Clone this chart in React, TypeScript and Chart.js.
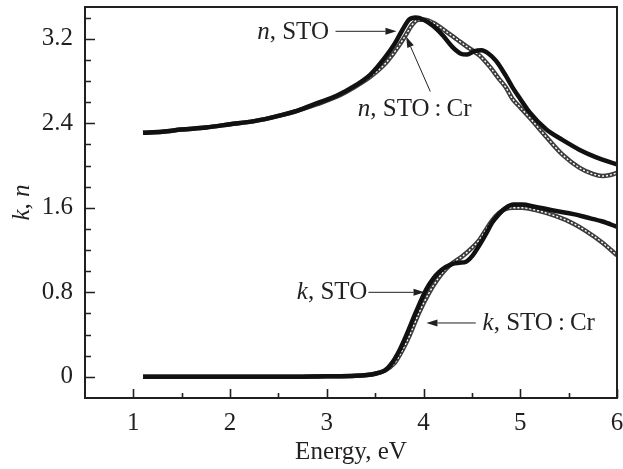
import React, { useEffect, useRef } from "react";
import { Chart, registerables } from "chart.js";
Chart.register(...registerables);

// ---------- data ----------
const nStoE = [1.1, 1.3, 1.5, 1.75, 2.0, 2.25, 2.5, 2.7, 2.9, 3.1, 3.3, 3.45, 3.6, 3.7, 3.78, 3.85, 3.92, 4.0, 4.1, 4.2, 4.3, 4.38, 4.45, 4.52, 4.6, 4.67, 4.75, 4.85, 4.92, 5.0, 5.1, 5.27, 5.44, 5.61, 5.78, 6.0];
const nStoV = [2.31, 2.32, 2.34, 2.36, 2.39, 2.42, 2.47, 2.52, 2.59, 2.66, 2.76, 2.86, 3.02, 3.15, 3.28, 3.38, 3.40, 3.38, 3.32, 3.23, 3.12, 3.06, 3.05, 3.08, 3.09, 3.06, 2.99, 2.85, 2.74, 2.63, 2.50, 2.34, 2.24, 2.15, 2.08, 2.01];

const nCrE = [1.1, 1.3, 1.5, 1.75, 2.0, 2.25, 2.5, 2.7, 2.9, 3.1, 3.3, 3.45, 3.6, 3.68, 3.75, 3.82, 3.88, 3.95, 4.02, 4.1, 4.23, 4.35, 4.44, 4.52, 4.58, 4.68, 4.78, 4.85, 4.92, 5.0, 5.1, 5.27, 5.44, 5.61, 5.75, 5.85, 5.93, 6.0];
const nCrV = [2.31, 2.32, 2.34, 2.36, 2.39, 2.42, 2.47, 2.52, 2.58, 2.65, 2.75, 2.84, 2.96, 3.05, 3.14, 3.24, 3.33, 3.38, 3.38, 3.35, 3.27, 3.19, 3.13, 3.08, 3.04, 2.94, 2.82, 2.74, 2.63, 2.55, 2.45, 2.27, 2.10, 1.98, 1.92, 1.90, 1.91, 1.93];

const kStoE = [1.1, 1.5, 2.0, 2.5, 3.0, 3.3, 3.5, 3.6, 3.68, 3.75, 3.82, 3.92, 4.03, 4.1, 4.16, 4.23, 4.3, 4.37, 4.44, 4.5, 4.58, 4.65, 4.71, 4.78, 4.85, 4.93, 5.02, 5.15, 5.37, 5.55, 5.68, 5.85, 6.0];
const kStoV = [0, 0, 0, 0, 0.005, 0.01, 0.03, 0.06, 0.14, 0.25, 0.39, 0.61, 0.83, 0.93, 0.99, 1.04, 1.07, 1.08, 1.09, 1.14, 1.25, 1.36, 1.46, 1.54, 1.60, 1.63, 1.63, 1.61, 1.57, 1.54, 1.51, 1.47, 1.42];

const kCrE = [1.1, 1.5, 2.0, 2.5, 3.0, 3.3, 3.5, 3.6, 3.7, 3.78, 3.86, 3.95, 4.06, 4.15, 4.23, 4.32, 4.4, 4.5, 4.58, 4.65, 4.71, 4.78, 4.85, 4.93, 5.02, 5.15, 5.37, 5.55, 5.68, 5.85, 6.0];
const kCrV = [0, 0, 0, 0, 0.005, 0.01, 0.03, 0.06, 0.13, 0.25, 0.40, 0.60, 0.80, 0.93, 1.02, 1.09, 1.14, 1.22, 1.30, 1.40, 1.48, 1.55, 1.59, 1.60, 1.60, 1.58, 1.52, 1.45, 1.38, 1.27, 1.15];

const xTicks = [1, 2, 3, 4, 5, 6];
const xTickLabels = ["1", "2", "3", "4", "5", "6"];
const xMinorTicks = [1.5, 2.5, 3.5, 4.5, 5.5];
const yTicks = [0, 0.8, 1.6, 2.4, 3.2];
const yTickLabels = ["0", "0.8", "1.6", "2.4", "3.2"];
const yMinorTicks = [0.2, 0.4, 0.6, 1.0, 1.2, 1.4, 1.8, 2.0, 2.2, 2.6, 2.8, 3.0, 3.4];

const xTitle = "Energy, eV";
const yTitleParts = [
  { t: "k", it: true },
  { t: ", ", it: false },
  { t: "n", it: true },
];

// labels anchored in data coordinates (left edge, vertical middle)
const labels = [
  { parts: [{ t: "n", it: true }, { t: ", STO", it: false }], x: 2.28, y: 3.26 },
  { parts: [{ t: "n", it: true }, { t: ", STO\u2009:\u2009Cr", it: false }], x: 3.32, y: 2.53 },
  { parts: [{ t: "k", it: true }, { t: ", STO", it: false }], x: 2.69, y: 0.8 },
  { parts: [{ t: "k", it: true }, { t: ", STO\u2009:\u2009Cr", it: false }], x: 4.61, y: 0.51 },
];
// arrows: from (x1,y1) to tip (x2,y2), data coordinates
const arrows = [
  { x1: 3.09, y1: 3.27, x2: 3.72, y2: 3.27 },
  { x1: 4.07, y1: 2.70, x2: 3.82, y2: 3.22 },
  { x1: 3.43, y1: 0.80, x2: 4.01, y2: 0.80 },
  { x1: 4.54, y1: 0.51, x2: 4.03, y2: 0.51 },
];

const FONT = '"Liberation Serif", "Times New Roman", serif';
const INK = "#231f20";

const pts = (xs: number[], ys: number[]) => xs.map((x, i) => ({ x, y: ys[i] }));

function drawRich(ctx: CanvasRenderingContext2D, parts: { t: string; it: boolean }[], x: number, y: number, size: number) {
  let cx = x;
  for (const p of parts) {
    ctx.font = `${p.it ? "italic " : ""}${size}px ${FONT}`;
    ctx.fillText(p.t, cx, y);
    cx += ctx.measureText(p.t).width;
  }
}
function richWidth(ctx: CanvasRenderingContext2D, parts: { t: string; it: boolean }[], size: number) {
  let w = 0;
  for (const p of parts) {
    ctx.font = `${p.it ? "italic " : ""}${size}px ${FONT}`;
    w += ctx.measureText(p.t).width;
  }
  return w;
}

const decorPlugin = {
  id: "decor",
  afterDraw(chart: any) {
    const ctx: CanvasRenderingContext2D = chart.ctx;
    const xs = chart.scales.x;
    const ys = chart.scales.y;
    const { left, right, top, bottom } = chart.chartArea;
    ctx.save();
    ctx.strokeStyle = INK;
    ctx.fillStyle = INK;
    // frame
    ctx.lineWidth = 2;
    ctx.strokeRect(left, top, right - left, bottom - top);
    // ticks
    ctx.lineWidth = 1.6;
    ctx.beginPath();
    for (const v of yTicks) {
      const py = Math.round(ys.getPixelForValue(v)) + 0.5;
      ctx.moveTo(left, py);
      ctx.lineTo(left + 10, py);
    }
    for (const v of yMinorTicks) {
      const py = Math.round(ys.getPixelForValue(v)) + 0.5;
      ctx.moveTo(left, py);
      ctx.lineTo(left + 6, py);
    }
    for (const v of xTicks) {
      const px = Math.round(xs.getPixelForValue(v)) + 0.5;
      ctx.moveTo(px, bottom);
      ctx.lineTo(px, bottom - 9);
    }
    for (const v of xMinorTicks) {
      const px = Math.round(xs.getPixelForValue(v)) + 0.5;
      ctx.moveTo(px, bottom);
      ctx.lineTo(px, bottom - 5);
    }
    ctx.stroke();

    // annotations
    ctx.textBaseline = "middle";
    ctx.textAlign = "left";
    for (const l of labels) {
      drawRich(ctx, l.parts, xs.getPixelForValue(l.x), ys.getPixelForValue(l.y), 25);
    }
    ctx.lineWidth = 1;
    for (const a of arrows) {
      const x1 = xs.getPixelForValue(a.x1), y1 = ys.getPixelForValue(a.y1);
      const x2 = xs.getPixelForValue(a.x2), y2 = ys.getPixelForValue(a.y2);
      const ang = Math.atan2(y2 - y1, x2 - x1);
      const hl = 11, hw = 3.5;
      const bx = x2 - hl * Math.cos(ang), by = y2 - hl * Math.sin(ang);
      ctx.beginPath();
      ctx.moveTo(x1, y1);
      ctx.lineTo(bx, by);
      ctx.stroke();
      ctx.beginPath();
      ctx.moveTo(x2, y2);
      ctx.lineTo(bx + hw * Math.sin(ang), by - hw * Math.cos(ang));
      ctx.lineTo(bx - hw * Math.sin(ang), by + hw * Math.cos(ang));
      ctx.closePath();
      ctx.fill();
    }

    // axis titles
    ctx.font = `25px ${FONT}`;
    ctx.textAlign = "center";
    ctx.textBaseline = "middle";
    ctx.fillText(xTitle, (left + right) / 2, 452);
    ctx.save();
    ctx.translate(22, (top + bottom) / 2);
    ctx.rotate(-Math.PI / 2);
    ctx.textAlign = "left";
    const w = richWidth(ctx, yTitleParts, 25);
    drawRich(ctx, yTitleParts, -w / 2, 0, 25);
    ctx.restore();
    ctx.restore();
  },
};

export default function App() {
  const ref = useRef<HTMLCanvasElement | null>(null);
  useEffect(() => {
    if (!ref.current) return;
    const base = { pointRadius: 0, fill: false, cubicInterpolationMode: "monotone" as const };
    const chart = new Chart(ref.current, {
      type: "line",
      data: {
        datasets: [
          { ...base, label: "n, STO", data: pts(nStoE, nStoV), borderColor: "#111", borderWidth: 4.5, order: 0 },
          { ...base, label: "k, STO", data: pts(kStoE, kStoV), borderColor: "#111", borderWidth: 4.5, order: 0 },
          { ...base, label: "n, STO:Cr inner", data: pts(nCrE, nCrV), borderColor: "#ffffff", borderWidth: 1.4, borderDash: [2, 2], order: 1 },
          { ...base, label: "k, STO:Cr inner", data: pts(kCrE, kCrV), borderColor: "#ffffff", borderWidth: 1.4, borderDash: [2, 2], order: 1 },
          { ...base, label: "n, STO:Cr", data: pts(nCrE, nCrV), borderColor: "#3c3c3c", borderWidth: 4.5, order: 2 },
          { ...base, label: "k, STO:Cr", data: pts(kCrE, kCrV), borderColor: "#3c3c3c", borderWidth: 4.5, order: 2 },
        ],
      },
      options: {
        animation: false,
        responsive: false,
        layout: { padding: { left: 0, top: 7, right: 6, bottom: 0 } },
        plugins: { legend: { display: false }, tooltip: { enabled: false } },
        scales: {
          x: {
            type: "linear",
            min: 0.5,
            max: 6,
            grid: { display: false, drawTicks: false },
            border: { display: false },
            afterBuildTicks: (s: any) => { s.ticks = xTicks.map((v) => ({ value: v })); },
            afterFit: (s: any) => { s.height = 71; s.paddingLeft = 0; s.paddingRight = 0; },
            ticks: {
              autoSkip: false,
              maxRotation: 0,
              padding: 10,
              color: INK,
              font: { family: FONT, size: 25 },
              callback: (_v: any, i: number) => xTickLabels[i],
            },
          },
          y: {
            type: "linear",
            min: -0.2,
            max: 3.5,
            grid: { display: false, drawTicks: false },
            border: { display: false },
            afterBuildTicks: (s: any) => { s.ticks = yTicks.map((v) => ({ value: v })); },
            afterFit: (s: any) => { s.width = 85; s.paddingTop = 0; s.paddingBottom = 0; },
            ticks: {
              autoSkip: false,
              padding: 12,
              color: INK,
              font: { family: FONT, size: 25 },
              callback: (_v: any, i: number) => yTickLabels[i],
            },
          },
        },
      },
      plugins: [decorPlugin],
    });
    return () => chart.destroy();
  }, []);
  return (
    <div style={{ position: "fixed", left: 0, top: 0, width: 623, height: 469, background: "#fff" }}>
      <canvas ref={ref} width={623} height={469} style={{ display: "block" }} />
    </div>
  );
}
